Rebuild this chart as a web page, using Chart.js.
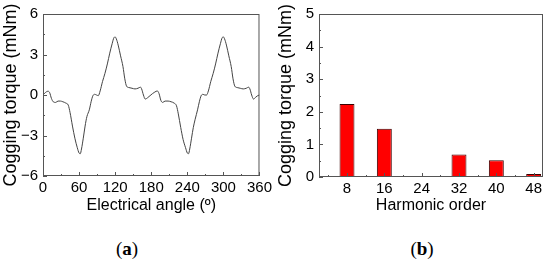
<!DOCTYPE html>
<html>
<head>
<meta charset="utf-8">
<script src="https://cdn.jsdelivr.net/npm/chart.js@4.4.1/dist/chart.umd.min.js"></script>
<style>
  body { margin: 0; width: 550px; height: 261px; background: #fff; position: relative; overflow: hidden; }
  .panel { position: absolute; top: 0; }
  #panelA { left: 0; }
  #panelB { left: 275px; }
  .cap { position: absolute; top: 238px; font: 19px "Liberation Serif", "Times New Roman", serif; color: #000; transform: translateX(-50%); }
</style>
</head>
<body>
<div class="panel" id="panelA"><canvas id="chartA" width="275" height="215"></canvas></div>
<div class="panel" id="panelB"><canvas id="chartB" width="275" height="215"></canvas></div>
<div class="cap" style="left:127px">(<b>a</b>)</div>
<div class="cap" style="left:422px">(<b>b</b>)</div>
<script>
// (a) cogging torque vs electrical angle
const angles = [0,4,8,11,14,17,21,25,29,33,38,42,45,49,53,57,60,62,64,67,70,73,77,80,83,86,89,92,95,99,103,107,111,115,118,120,122,125,129,133,136,139,143,148,153,158,162,164,167,170,174,178,
  182,186,190,193,196,199,203,208,213,218,222,225,229,233,237,240,242,244,247,250,253,257,260,263,266,269,272,275,279,283,287,291,295,298,300,302,305,309,313,316,319,323,328,333,338,342,344,347,350,354,357,360];
const torque = [0.00,0.18,0.28,0.18,-0.25,-0.5,-0.55,-0.45,-0.45,-0.5,-0.6,-0.75,-1.3,-2.3,-3.2,-3.9,-4.3,-4.35,-4.0,-3.2,-2.3,-1.6,-1.1,-0.5,-0.05,0.05,0.0,-0.05,0.3,1.0,1.6,2.3,3.1,3.8,4.25,4.3,4.15,3.7,2.9,2.1,1.2,0.65,0.55,0.5,0.45,0.5,0.58,0.45,0.0,-0.3,-0.2,-0.05,
  0.1,0.22,0.3,0.1,-0.4,-0.55,-0.45,-0.45,-0.5,-0.6,-0.8,-1.4,-2.4,-3.3,-3.9,-4.3,-4.35,-4.0,-3.2,-2.4,-1.8,-1.1,-0.5,-0.05,0.05,0.0,0.0,0.3,1.0,1.6,2.3,3.1,3.8,4.25,4.3,4.15,3.7,2.9,2.1,1.2,0.65,0.55,0.5,0.45,0.5,0.58,0.45,0.0,-0.3,-0.15,-0.05,0.0];
const angleTicks = [0,60,120,180,240,300,360];
const torqueTicks = [-6,-3,0,3,6];

// (b) harmonic spectrum
const harmonics = [8,12,16,32,36,40,48];
const amplitude = [2.24,0.02,1.48,0.69,0.02,0.51,0.09];
const orderTicks = [8,16,24,32,40,48];
const ampTicks = [0,1,2,3,4,5];

const FONT = "'Liberation Sans', Arial, sans-serif";
const minus = v => String(v).replace('-', '\u2212');

// minor tick values half way between the major ones
function minorOf(major, min, max) {
  const step = major[1] - major[0];
  const out = [];
  for (let v = major[0] - step / 2; v <= max; v += step) {
    if (v >= min) out.push(v);
  }
  return out;
}

// box round the plot and inward tick marks on the bottom and left
const framePlugin = {
  id: 'frame',
  afterDatasetsDraw(chart) {
    const { ctx, chartArea: a, scales: { x, y } } = chart;
    ctx.save();
    ctx.strokeStyle = '#555';
    ctx.lineWidth = 1;
    ctx.strokeRect(a.left + 0.5, a.top + 0.5, a.right - a.left - 1, a.bottom - a.top - 1);
    const xs = x.ticks.map(t => t.value);
    const ys = y.ticks.map(t => t.value);
    ctx.beginPath();
    const tickX = (vals, len) => vals.forEach(v => {
      const px = Math.round(x.getPixelForValue(v)) + 0.5;
      ctx.moveTo(px, a.bottom); ctx.lineTo(px, a.bottom - len);
    });
    const tickY = (vals, len) => vals.forEach(v => {
      const py = Math.round(y.getPixelForValue(v)) + 0.5;
      ctx.moveTo(a.left, py); ctx.lineTo(a.left + len, py);
    });
    tickX(xs, 4); tickX(minorOf(xs, x.min, x.max), 2);
    tickY(ys, 4); tickY(minorOf(ys, y.min, y.max), 2);
    ctx.stroke();
    ctx.restore();
  }
};

function axes(xTicks, xMin, xMax, xTitle, yTicks, yW, xH) {
  return {
    x: {
      type: 'linear', min: xMin, max: xMax, offset: false,
      afterBuildTicks: s => { s.ticks = xTicks.map(v => ({ value: v })); },
      afterFit: s => { s.height = xH; },
      grid: { display: false, drawTicks: false, offset: false },
      border: { display: false },
      ticks: { color: '#000', font: { family: FONT, size: 15 }, padding: 3, maxRotation: 0, autoSkip: false, callback: v => minus(v) },
      title: { display: true, text: xTitle, color: '#000', font: { family: FONT, size: 16 }, padding: 0 }
    },
    y: {
      min: yTicks[0], max: yTicks[yTicks.length - 1],
      afterBuildTicks: s => { s.ticks = yTicks.map(v => ({ value: v })); },
      afterFit: s => { s.width = yW; },
      grid: { display: false, drawTicks: false },
      border: { display: false },
      ticks: { color: '#000', font: { family: FONT, size: 15 }, padding: 5, callback: v => minus(v) },
      title: { display: true, text: 'Cogging torque (mNm)', color: '#000', font: { family: FONT, size: 18 }, padding: 0 }
    }
  };
}

new Chart(document.getElementById('chartA'), {
  type: 'line',
  data: {
    datasets: [{
      data: angles.map((a, i) => ({ x: a, y: torque[i] })),
      borderColor: '#444',
      borderWidth: 1,
      pointRadius: 0,
      cubicInterpolationMode: 'monotone'
    }]
  },
  options: {
    responsive: false,
    animation: false,
    layout: { padding: { top: 13, right: 8, left: 0, bottom: 0 } },
    plugins: { legend: { display: false }, tooltip: { enabled: false } },
    scales: axes(angleTicks, 0, 360, 'Electrical angle (\u00ba)', torqueTicks, 43, 39)
  },
  plugins: [framePlugin]
});

new Chart(document.getElementById('chartB'), {
  type: 'bar',
  data: {
    datasets: [{
      data: harmonics.map((h, i) => ({ x: h, y: amplitude[i] })),
      backgroundColor: '#ff0000',
      borderColor: '#3a0000',
      borderWidth: 1,
      barPercentage: 0.8,
      categoryPercentage: 1
    }]
  },
  options: {
    responsive: false,
    animation: false,
    layout: { padding: { top: 12, right: 7, left: 0, bottom: 0 } },
    plugins: { legend: { display: false }, tooltip: { enabled: false } },
    scales: axes(orderTicks, 2, 50, 'Harmonic order', ampTicks, 44, 38)
  },
  plugins: [framePlugin]
});
</script>
</body>
</html>
